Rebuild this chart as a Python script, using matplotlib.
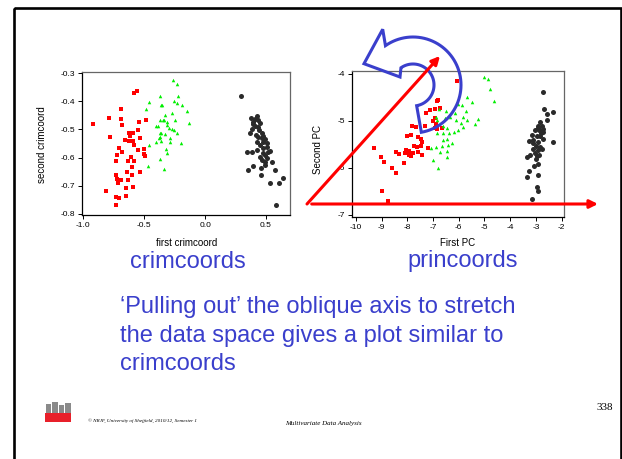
import numpy as np
import matplotlib
matplotlib.use('Agg')
import matplotlib.pyplot as plt
from matplotlib.patches import Polygon, Rectangle

W, H = 622, 459
BLUE = '#3a3fcc'

# first / second crimcoord, one list per group
crim_red = [(-0.923, -0.481), (-0.789, -0.460), (-0.778, -0.527), (-0.688, -0.428),
            (-0.688, -0.462), (-0.680, -0.483), (-0.586, -0.369), (-0.559, -0.364),
            (-0.545, -0.472), (-0.483, -0.465), (-0.627, -0.513), (-0.594, -0.513),
            (-0.617, -0.523), (-0.551, -0.503), (-0.658, -0.536), (-0.622, -0.541),
            (-0.594, -0.540), (-0.532, -0.532), (-0.581, -0.556), (-0.553, -0.573),
            (-0.504, -0.570), (-0.704, -0.567), (-0.682, -0.579), (-0.726, -0.591),
            (-0.729, -0.611), (-0.608, -0.599), (-0.636, -0.611), (-0.581, -0.611),
            (-0.502, -0.587), (-0.491, -0.595), (-0.598, -0.635), (-0.639, -0.650),
            (-0.598, -0.663), (-0.534, -0.653), (-0.729, -0.663), (-0.726, -0.676),
            (-0.715, -0.690), (-0.688, -0.679), (-0.631, -0.679), (-0.647, -0.708),
            (-0.589, -0.705), (-0.811, -0.719), (-0.732, -0.741), (-0.704, -0.743),
            (-0.652, -0.736), (-0.732, -0.767)]
crim_green = [(-0.264, -0.324), (-0.231, -0.340), (-0.373, -0.382), (-0.220, -0.382),
              (-0.458, -0.403), (-0.362, -0.412), (-0.354, -0.412), (-0.258, -0.400),
              (-0.233, -0.407), (-0.187, -0.412), (-0.483, -0.426), (-0.146, -0.433),
              (-0.327, -0.448), (-0.274, -0.441), (-0.370, -0.465), (-0.340, -0.468),
              (-0.313, -0.473), (-0.245, -0.467), (-0.130, -0.476), (-0.389, -0.488),
              (-0.294, -0.495), (-0.269, -0.497), (-0.253, -0.501), (-0.360, -0.513),
              (-0.327, -0.515), (-0.370, -0.527), (-0.286, -0.530), (-0.381, -0.532),
              (-0.403, -0.545), (-0.360, -0.541), (-0.288, -0.544), (-0.200, -0.547),
              (-0.458, -0.556), (-0.321, -0.570), (-0.316, -0.582), (-0.370, -0.606),
              (-0.471, -0.629), (-0.340, -0.639), (-0.406, -0.487), (-0.370, -0.511),
              (-0.316, -0.484), (-0.343, -0.466), (-0.233, -0.513)]
crim_black = [(0.292, -0.383), (0.374, -0.460), (0.424, -0.454), (0.432, -0.468),
              (0.451, -0.476), (0.391, -0.481), (0.410, -0.487), (0.383, -0.499),
              (0.369, -0.511), (0.418, -0.519), (0.437, -0.527), (0.465, -0.531),
              (0.429, -0.543), (0.478, -0.543), (0.451, -0.555), (0.506, -0.561),
              (0.533, -0.575), (0.478, -0.567), (0.342, -0.579), (0.383, -0.579),
              (0.424, -0.573), (0.492, -0.590), (0.451, -0.599), (0.547, -0.614),
              (0.492, -0.614), (0.391, -0.629), (0.457, -0.638), (0.492, -0.626),
              (0.355, -0.644), (0.574, -0.644), (0.459, -0.661), (0.642, -0.671),
              (0.533, -0.691), (0.610, -0.691), (0.582, -0.768), (0.396, -0.472),
              (0.410, -0.463), (0.437, -0.490), (0.445, -0.501), (0.465, -0.513),
              (0.478, -0.523), (0.492, -0.535), (0.506, -0.549), (0.519, -0.579),
              (0.473, -0.582), (0.465, -0.608), (0.506, -0.602)]

# first / second principal component, one list per group
pc_red = [(-9.29, -5.57), (-9.02, -5.78), (-8.90, -5.88), (-8.59, -6.01), (-8.42, -6.11),
          (-8.99, -6.50), (-8.73, -6.70), (-8.43, -5.67), (-8.34, -5.70), (-8.08, -5.69),
          (-8.11, -5.89), (-7.93, -5.72), (-7.93, -5.65), (-7.86, -5.74), (-8.05, -5.62),
          (-8.03, -5.33), (-7.86, -5.30), (-7.81, -5.11), (-7.79, -5.68), (-7.66, -5.14),
          (-7.63, -5.55), (-7.73, -5.53), (-7.58, -5.67), (-7.41, -5.72), (-7.46, -5.53),
          (-7.48, -5.38), (-7.57, -5.35), (-7.41, -5.44), (-7.33, -5.12), (-7.28, -4.84),
          (-7.18, -5.58), (-7.10, -4.78), (-7.01, -5.01), (-6.93, -4.75), (-6.85, -4.57),
          (-6.79, -4.55), (-6.72, -4.73), (-6.91, -4.94), (-6.89, -5.06), (-6.91, -5.16),
          (-6.83, -5.18), (-6.66, -5.16), (-6.05, -4.16)]
pc_green = [(-5.02, -4.07), (-4.85, -4.10), (-4.78, -4.32), (-4.63, -4.57), (-5.50, -4.61),
            (-5.69, -4.50), (-5.88, -4.66), (-6.01, -4.65), (-6.14, -4.84), (-6.49, -4.79),
            (-6.76, -4.74), (-6.34, -4.91), (-6.10, -4.98), (-5.82, -4.92), (-5.73, -4.80),
            (-5.69, -4.98), (-5.92, -5.05), (-5.82, -5.13), (-5.37, -5.06), (-5.24, -4.96),
            (-6.53, -4.94), (-6.89, -4.91), (-6.85, -4.98), (-6.60, -5.12), (-6.47, -5.16),
            (-6.36, -5.25), (-6.62, -5.25), (-6.85, -5.26), (-6.17, -5.23), (-6.04, -5.19),
            (-6.60, -5.40), (-6.47, -5.39), (-6.66, -5.53), (-6.41, -5.51), (-6.28, -5.48),
            (-6.47, -5.65), (-6.72, -5.67), (-7.07, -5.58), (-6.89, -5.56), (-6.44, -5.77),
            (-7.01, -5.83), (-6.79, -6.01)]
pc_black = [(-2.71, -4.39), (-2.68, -4.75), (-2.56, -4.85), (-2.33, -4.82), (-2.56, -4.99),
            (-2.84, -5.03), (-2.93, -5.10), (-2.78, -5.12), (-2.71, -5.18), (-2.87, -5.19),
            (-3.04, -5.19), (-2.82, -5.26), (-3.17, -5.30), (-2.97, -5.33), (-2.71, -5.39),
            (-3.26, -5.42), (-3.10, -5.47), (-2.91, -5.46), (-2.35, -5.46), (-3.00, -5.53),
            (-2.84, -5.56), (-3.13, -5.60), (-2.91, -5.63), (-2.78, -5.60), (-3.04, -5.69),
            (-3.23, -5.72), (-3.34, -5.77), (-2.95, -5.74), (-3.00, -5.81), (-2.91, -5.91),
            (-3.08, -5.97), (-3.26, -6.06), (-2.91, -6.15), (-3.36, -6.20), (-2.97, -6.41),
            (-2.91, -6.50), (-3.17, -6.67), (-2.91, -5.16), (-2.74, -5.23), (-2.84, -5.33),
            (-3.13, -5.40), (-2.87, -5.72)]

crim_xticks = [-1.0, -0.5, 0.0, 0.5]
crim_yticks = [-0.3, -0.4, -0.5, -0.6, -0.7, -0.8]
pc_xticks = [-10, -9, -8, -7, -6, -5, -4, -3, -2]
pc_yticks = [-4, -5, -6, -7]

body_lines = ['\u2018Pulling out\u2019 the oblique axis to stretch',
              'the data space gives a plot similar to',
              'crimcoords']

plt.rcParams['font.family'] = ['Liberation Sans', 'DejaVu Sans']

fig = plt.figure(figsize=(W / 100, H / 100), dpi=100)


def px_axes(x0, y0, x1, y1):
    # axes placed by pixel box (y measured from top)
    return fig.add_axes([x0 / W, 1 - y1 / H, (x1 - x0) / W, (y1 - y0) / H])


def groups(ax, red, green, black):
    r = np.array(red); g = np.array(green); b = np.array(black)
    ax.scatter(r[:, 0], r[:, 1], marker='s', s=6.5, color='#ff0000', linewidths=0)
    ax.scatter(g[:, 0], g[:, 1], marker='^', s=6.5, color='#00ee00', linewidths=0)
    ax.scatter(b[:, 0], b[:, 1], marker='o', s=13, color='#2a2a2a', linewidths=0)


def r_style(ax, xt, yt, xl, yl, fmt):
    ax.set_xlim(*xl)
    ax.set_ylim(*yl)
    ax.set_xticks(xt)
    ax.set_xticklabels([fmt.format(v) for v in xt])
    ax.set_yticks(yt)
    ax.set_yticklabels([fmt.format(v) for v in yt])
    ax.tick_params(direction='out', length=3, width=0.7, labelsize=6, pad=2)
    for s in ax.spines.values():
        s.set_linewidth(0.9)
    ax.spines['top'].set_color('#666666')
    ax.spines['right'].set_color('#666666')


ax1 = px_axes(81.7, 72, 290, 215)
groups(ax1, crim_red, crim_green, crim_black)
r_style(ax1, crim_xticks, crim_yticks, (-1.013, 0.697), (-0.804, -0.296), '{:.1f}')

ax2 = px_axes(351.7, 71, 564, 216.7)
groups(ax2, pc_red, pc_green, pc_black)
r_style(ax2, pc_xticks, pc_yticks, (-10.16, -1.91), (-7.04, -3.94), '{:d}')

# overlay in pixel units for slide text and drawn arrows
ov = fig.add_axes([0, 0, 1, 1], zorder=10)
ov.set_xlim(0, W)
ov.set_ylim(H, 0)
ov.axis('off')
ov.patch.set_alpha(0)

ov.add_patch(Rectangle((14, 7.5), 607, 480, fill=False, edgecolor='black', lw=1.9))

ov.text(41.7, 145, 'second crimcoord', rotation=90, ha='center', va='center', fontsize=7)
ov.text(187, 243, 'first crimcoord', ha='center', va='center', fontsize=7)
ov.text(318.3, 150, 'Second PC', rotation=90, ha='center', va='center', fontsize=7)
ov.text(458, 243, 'First PC', ha='center', va='center', fontsize=7)

ov.text(188, 268, 'crimcoords', ha='center', va='baseline', fontsize=17, color=BLUE)
ov.text(463, 267, 'princoords', ha='center', va='baseline', fontsize=17, color=BLUE)

for i, line in enumerate(body_lines):
    ov.text(120, 313.5 + 28.3 * i, line, ha='left', va='baseline', fontsize=17, color=BLUE)

# curved blue arrow (outline only)
cx, cy, r_in, r_out = 413, 85, 21, 48
a_out = np.radians(np.linspace(125, -80, 60))
a_in = np.radians(np.linspace(-80, 125, 60))
outer = np.c_[cx + r_out * np.cos(a_out), cy - r_out * np.sin(a_out)]
inner = np.c_[cx + r_in * np.cos(a_in), cy - r_in * np.sin(a_in)]
head = np.array([[400, 77], [364, 63.7], [382.7, 29.3]])
ov.add_patch(Polygon(np.vstack([outer, inner, head]), closed=True, fill=False,
                     edgecolor=BLUE, lw=2.2, joinstyle='miter'))

# red axes being pulled apart
arrow = dict(arrowstyle='-|>', color='#ff0000', lw=2.2, mutation_scale=12,
             shrinkA=0, shrinkB=0)
ov.annotate('', xy=(598, 204), xytext=(311.7, 204), arrowprops=arrow)
ov.annotate('', xy=(440, 56), xytext=(307, 204), arrowprops=arrow)

# footer
for (x, y, w, h) in [(46, 404, 5, 9), (52, 402, 6, 11), (59, 405, 5, 8), (65, 403, 6, 10)]:
    ov.add_patch(Rectangle((x, y), w, h, color='#8a8a8a', lw=0))
ov.add_patch(Rectangle((45, 413), 26, 9, color='#e8202a', lw=0))
ov.text(88, 421, '\u00a9 NRJF, University of Sheffield, 2010/12, Semester 1',
        fontsize=3.7, family='Liberation Serif', style='italic', va='center')
ov.text(323, 424, 'Multivariate Data Analysis', fontsize=5, family='Liberation Serif',
        style='italic', ha='center', va='center')
ov.text(605, 408, '338', fontsize=8, family='Liberation Serif', ha='center', va='center')

fig.savefig('out.png', dpi=100)
